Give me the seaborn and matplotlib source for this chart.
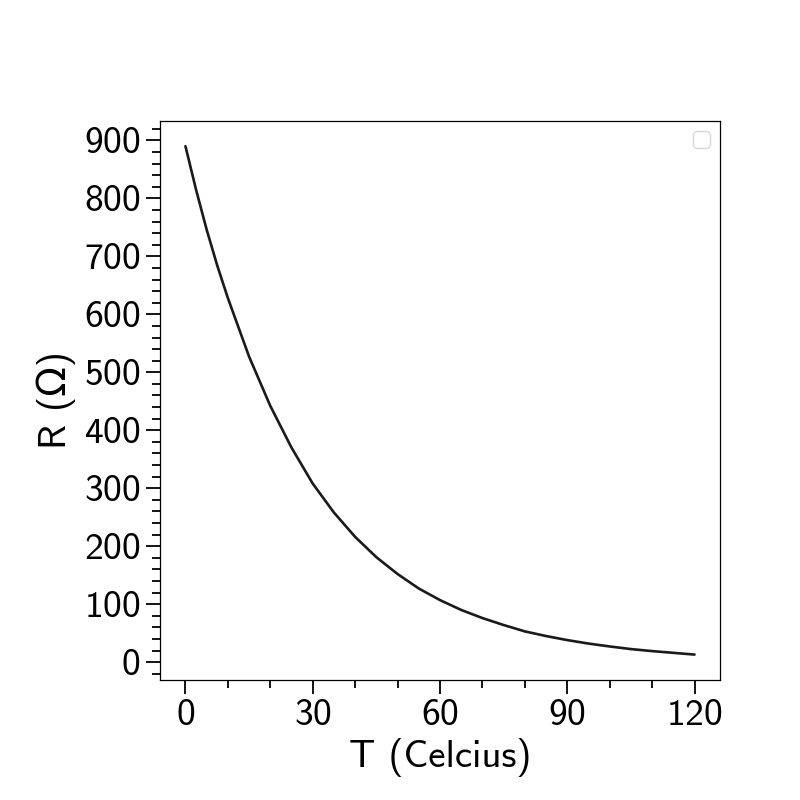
import matplotlib
matplotlib.use("Agg")
import matplotlib.pyplot as plt
from matplotlib.ticker import MultipleLocator
import pandas as pd
import seaborn as sns

# values
temps = [0, 2.5, 5, 7.5, 10, 15, 20, 25, 30, 35, 40, 45, 50, 55, 60,
         65, 70, 75, 80, 85, 90, 95, 100, 105, 110, 115, 120]
resist = [890, 815, 746, 684, 628, 527, 442, 370, 308, 258, 216, 181, 152, 127, 107,
          90, 76, 64, 53, 45, 38, 32, 27, 22.5, 19, 16, 13]

sns.set_style("white")
plt.rcParams["font.family"] = ["cmss10", "DejaVu Sans"]
plt.rcParams["axes.formatter.use_mathtext"] = True
plt.rcParams["text.color"] = "black"
plt.rcParams["axes.labelcolor"] = "black"
plt.rcParams["xtick.color"] = "black"
plt.rcParams["ytick.color"] = "black"

df = pd.DataFrame({"T": temps, "R": resist})

fig, ax = plt.subplots(figsize=(8, 8), dpi=100)
fig.subplots_adjust(left=0.2, right=0.9, top=0.849, bottom=0.15)

sns.lineplot(data=df, x="T", y="R", color="#1a1a1a", linewidth=1.9, ax=ax)

ax.set_xlabel("T (Celcius)", fontsize=28)
ax.set_ylabel("R (Ω)", fontsize=28, labelpad=6)
ax.xaxis.set_major_locator(MultipleLocator(30))
ax.xaxis.set_minor_locator(MultipleLocator(10))
ax.yaxis.set_major_locator(MultipleLocator(100))
ax.yaxis.set_minor_locator(MultipleLocator(20))
ax.tick_params(which="major", direction="out", length=10, width=1.3,
               labelsize=27, pad=4, bottom=True, left=True, top=False, right=False)
ax.tick_params(which="minor", direction="out", length=5.5, width=1.3,
               bottom=True, left=True, top=False, right=False)
for s in ax.spines.values():
    s.set_color("black")
    s.set_linewidth(0.9)

ax.legend(loc="upper right", fontsize=15)

plt.savefig("out.png")
